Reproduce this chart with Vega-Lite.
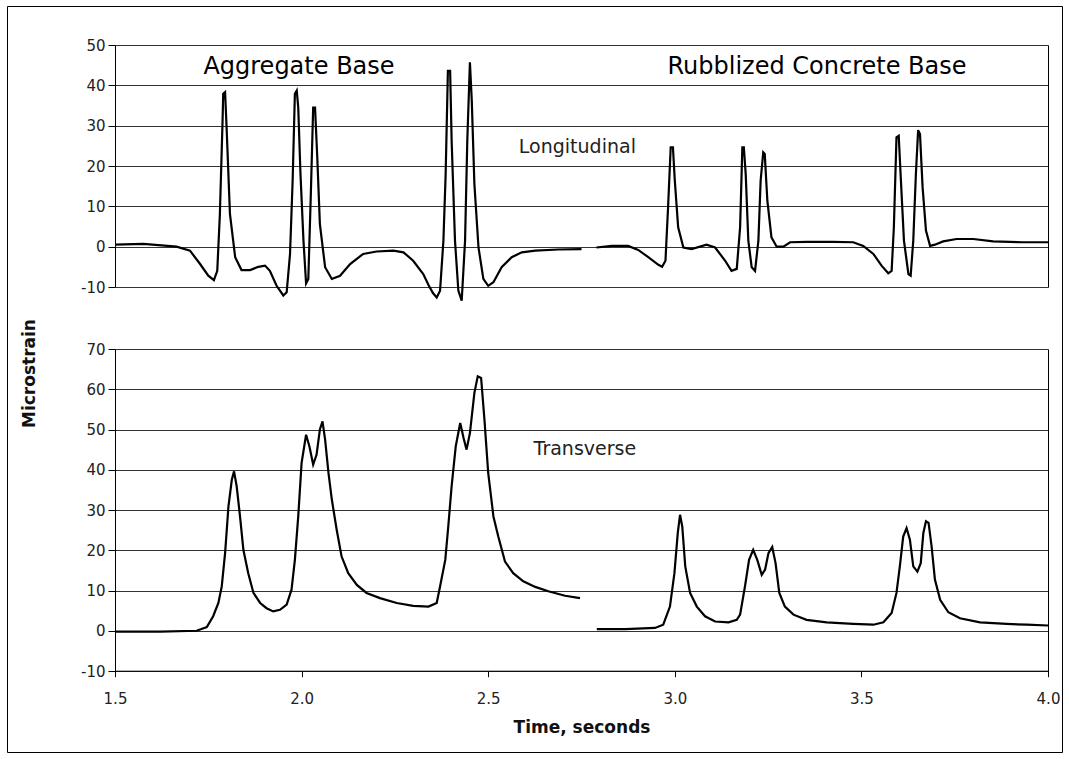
{
  "$schema": "https://vega.github.io/schema/vega-lite/v6.json",
  "autosize": "none",
  "padding": {"left": 7, "top": 6, "right": 7, "bottom": 7},
  "width": 1055,
  "height": 746,
  "background": "white",
  "config": {
    "font": "DejaVu Sans",
    "view": {"stroke": "#000", "strokeWidth": 1},
    "axis": {
      "labelFont": "DejaVu Sans",
      "labelFontSize": 15,
      "labelColor": "#222",
      "titleFont": "DejaVu Sans",
      "titleFontSize": 17,
      "titleFontWeight": "bold",
      "titleColor": "#111",
      "domainColor": "#000",
      "tickColor": "#000",
      "gridColor": "#333",
      "gridOpacity": 1
    }
  },
  "datasets": {
    "lon": [
      {"seg":"a","t":1.5,"v":0.5},{"seg":"a","t":1.576,"v":0.7},{"seg":"a","t":1.665,"v":0},{"seg":"a","t":1.701,"v":-1},{"seg":"a","t":1.728,"v":-4.3},{"seg":"a","t":1.75,"v":-7.2},{"seg":"a","t":1.765,"v":-8.3},{"seg":"a","t":1.774,"v":-6},{"seg":"a","t":1.781,"v":8},{"seg":"a","t":1.788,"v":30.4},{"seg":"a","t":1.79,"v":37.9},{"seg":"a","t":1.795,"v":38.3},{"seg":"a","t":1.799,"v":29.6},{"seg":"a","t":1.808,"v":8.1},{"seg":"a","t":1.822,"v":-2.6},{"seg":"a","t":1.839,"v":-5.8},{"seg":"a","t":1.862,"v":-5.8},{"seg":"a","t":1.884,"v":-5},{"seg":"a","t":1.902,"v":-4.7},{"seg":"a","t":1.915,"v":-6},{"seg":"a","t":1.933,"v":-9.7},{"seg":"a","t":1.951,"v":-12.1},{"seg":"a","t":1.96,"v":-11.3},{"seg":"a","t":1.969,"v":-1.8},{"seg":"a","t":1.976,"v":16.4},{"seg":"a","t":1.982,"v":37.9},{"seg":"a","t":1.987,"v":38.7},{"seg":"a","t":1.991,"v":34.5},{"seg":"a","t":1.997,"v":18},{"seg":"a","t":2.005,"v":1.5},{"seg":"a","t":2.012,"v":-9.1},{"seg":"a","t":2.018,"v":-8},{"seg":"a","t":2.025,"v":13.9},{"seg":"a","t":2.031,"v":34.5},{"seg":"a","t":2.036,"v":34.5},{"seg":"a","t":2.042,"v":22.1},{"seg":"a","t":2.049,"v":5.6},{"seg":"a","t":2.063,"v":-5.1},{"seg":"a","t":2.081,"v":-8},{"seg":"a","t":2.103,"v":-7.2},{"seg":"a","t":2.13,"v":-4.3},{"seg":"a","t":2.165,"v":-1.8},{"seg":"a","t":2.201,"v":-1.2},{"seg":"a","t":2.246,"v":-1},{"seg":"a","t":2.273,"v":-1.4},{"seg":"a","t":2.299,"v":-3.5},{"seg":"a","t":2.326,"v":-6.8},{"seg":"a","t":2.34,"v":-9.5},{"seg":"a","t":2.352,"v":-11.5},{"seg":"a","t":2.362,"v":-12.6},{"seg":"a","t":2.371,"v":-10.9},{"seg":"a","t":2.38,"v":1.5},{"seg":"a","t":2.386,"v":18},{"seg":"a","t":2.392,"v":43.6},{"seg":"a","t":2.398,"v":43.6},{"seg":"a","t":2.402,"v":26.3},{"seg":"a","t":2.411,"v":1.5},{"seg":"a","t":2.42,"v":-10.9},{"seg":"a","t":2.429,"v":-13.4},{"seg":"a","t":2.438,"v":1.5},{"seg":"a","t":2.444,"v":26.3},{"seg":"a","t":2.451,"v":45.7},{"seg":"a","t":2.456,"v":36.2},{"seg":"a","t":2.463,"v":15.5},{"seg":"a","t":2.474,"v":-0.2},{"seg":"a","t":2.487,"v":-8},{"seg":"a","t":2.5,"v":-9.7},{"seg":"a","t":2.514,"v":-8.8},{"seg":"a","t":2.536,"v":-5.1},{"seg":"a","t":2.563,"v":-2.6},{"seg":"a","t":2.59,"v":-1.4},{"seg":"a","t":2.626,"v":-1},{"seg":"a","t":2.688,"v":-0.7},{"seg":"a","t":2.75,"v":-0.6},
      {"seg":"b","t":2.79,"v":-0.2},{"seg":"b","t":2.831,"v":0.2},{"seg":"b","t":2.875,"v":0.2},{"seg":"b","t":2.902,"v":-0.8},{"seg":"b","t":2.929,"v":-2.6},{"seg":"b","t":2.956,"v":-4.5},{"seg":"b","t":2.966,"v":-5},{"seg":"b","t":2.975,"v":-3.5},{"seg":"b","t":2.982,"v":9.8},{"seg":"b","t":2.989,"v":24.6},{"seg":"b","t":2.995,"v":24.6},{"seg":"b","t":3.0,"v":16.4},{"seg":"b","t":3.009,"v":4.8},{"seg":"b","t":3.023,"v":-0.2},{"seg":"b","t":3.045,"v":-0.6},{"seg":"b","t":3.085,"v":0.5},{"seg":"b","t":3.108,"v":-0.2},{"seg":"b","t":3.135,"v":-3.5},{"seg":"b","t":3.152,"v":-6},{"seg":"b","t":3.166,"v":-5.5},{"seg":"b","t":3.175,"v":4.8},{"seg":"b","t":3.181,"v":24.6},{"seg":"b","t":3.185,"v":24.6},{"seg":"b","t":3.19,"v":18},{"seg":"b","t":3.197,"v":1.5},{"seg":"b","t":3.206,"v":-5.1},{"seg":"b","t":3.215,"v":-6},{"seg":"b","t":3.224,"v":1.5},{"seg":"b","t":3.23,"v":16.4},{"seg":"b","t":3.237,"v":23.4},{"seg":"b","t":3.241,"v":23},{"seg":"b","t":3.248,"v":11.4},{"seg":"b","t":3.259,"v":2.3},{"seg":"b","t":3.273,"v":0},{"seg":"b","t":3.291,"v":0},{"seg":"b","t":3.309,"v":1.1},{"seg":"b","t":3.353,"v":1.2},{"seg":"b","t":3.425,"v":1.2},{"seg":"b","t":3.478,"v":1.1},{"seg":"b","t":3.505,"v":0.2},{"seg":"b","t":3.532,"v":-1.8},{"seg":"b","t":3.554,"v":-4.7},{"seg":"b","t":3.572,"v":-6.6},{"seg":"b","t":3.581,"v":-6},{"seg":"b","t":3.587,"v":4.8},{"seg":"b","t":3.594,"v":27.1},{"seg":"b","t":3.6,"v":27.5},{"seg":"b","t":3.605,"v":18},{"seg":"b","t":3.614,"v":1.5},{"seg":"b","t":3.626,"v":-6.8},{"seg":"b","t":3.632,"v":-7.2},{"seg":"b","t":3.639,"v":1.5},{"seg":"b","t":3.646,"v":18},{"seg":"b","t":3.652,"v":28.9},{"seg":"b","t":3.657,"v":27.9},{"seg":"b","t":3.664,"v":14.7},{"seg":"b","t":3.673,"v":4},{"seg":"b","t":3.684,"v":0.2},{"seg":"b","t":3.697,"v":0.5},{"seg":"b","t":3.719,"v":1.3},{"seg":"b","t":3.755,"v":1.9},{"seg":"b","t":3.8,"v":1.9},{"seg":"b","t":3.853,"v":1.3},{"seg":"b","t":3.934,"v":1.1},{"seg":"b","t":4.0,"v":1.1}
    ],
    "tra": [
      {"seg":"a","t":1.5,"v":-0.2},{"seg":"a","t":1.621,"v":-0.2},{"seg":"a","t":1.719,"v":0},{"seg":"a","t":1.746,"v":0.9},{"seg":"a","t":1.763,"v":3.6},{"seg":"a","t":1.777,"v":6.9},{"seg":"a","t":1.786,"v":11},{"seg":"a","t":1.795,"v":19.3},{"seg":"a","t":1.804,"v":30.9},{"seg":"a","t":1.813,"v":37.5},{"seg":"a","t":1.819,"v":39.6},{"seg":"a","t":1.826,"v":35.9},{"seg":"a","t":1.835,"v":28.4},{"seg":"a","t":1.844,"v":20.1},{"seg":"a","t":1.857,"v":14.3},{"seg":"a","t":1.871,"v":9.4},{"seg":"a","t":1.889,"v":6.9},{"seg":"a","t":1.906,"v":5.6},{"seg":"a","t":1.924,"v":4.8},{"seg":"a","t":1.942,"v":5.2},{"seg":"a","t":1.96,"v":6.5},{"seg":"a","t":1.973,"v":10.2},{"seg":"a","t":1.982,"v":17.6},{"seg":"a","t":1.991,"v":28.4},{"seg":"a","t":2.0,"v":41.7},{"seg":"a","t":2.012,"v":48.7},{"seg":"a","t":2.021,"v":45.8},{"seg":"a","t":2.031,"v":41.3},{"seg":"a","t":2.04,"v":43.7},{"seg":"a","t":2.049,"v":50},{"seg":"a","t":2.056,"v":52},{"seg":"a","t":2.063,"v":47.5},{"seg":"a","t":2.072,"v":39.2},{"seg":"a","t":2.081,"v":32.6},{"seg":"a","t":2.094,"v":25.1},{"seg":"a","t":2.107,"v":18.5},{"seg":"a","t":2.125,"v":14.3},{"seg":"a","t":2.148,"v":11.4},{"seg":"a","t":2.174,"v":9.4},{"seg":"a","t":2.21,"v":8.1},{"seg":"a","t":2.255,"v":6.9},{"seg":"a","t":2.299,"v":6.2},{"seg":"a","t":2.34,"v":6},{"seg":"a","t":2.362,"v":6.9},{"seg":"a","t":2.371,"v":11},{"seg":"a","t":2.385,"v":17.6},{"seg":"a","t":2.393,"v":25.9},{"seg":"a","t":2.402,"v":35.9},{"seg":"a","t":2.413,"v":45.8},{"seg":"a","t":2.425,"v":51.6},{"seg":"a","t":2.434,"v":47.9},{"seg":"a","t":2.442,"v":45},{"seg":"a","t":2.451,"v":49.1},{"seg":"a","t":2.463,"v":59.1},{"seg":"a","t":2.472,"v":63.2},{"seg":"a","t":2.481,"v":62.8},{"seg":"a","t":2.49,"v":52.4},{"seg":"a","t":2.5,"v":39.2},{"seg":"a","t":2.514,"v":28.4},{"seg":"a","t":2.527,"v":23.4},{"seg":"a","t":2.545,"v":17.2},{"seg":"a","t":2.567,"v":14.3},{"seg":"a","t":2.594,"v":12.3},{"seg":"a","t":2.626,"v":10.9},{"seg":"a","t":2.661,"v":9.8},{"seg":"a","t":2.706,"v":8.7},{"seg":"a","t":2.746,"v":8.1},
      {"seg":"b","t":2.791,"v":0.4},{"seg":"b","t":2.867,"v":0.4},{"seg":"b","t":2.947,"v":0.7},{"seg":"b","t":2.969,"v":1.5},{"seg":"b","t":2.987,"v":6},{"seg":"b","t":2.999,"v":14.3},{"seg":"b","t":3.008,"v":24.3},{"seg":"b","t":3.014,"v":28.8},{"seg":"b","t":3.02,"v":25.9},{"seg":"b","t":3.028,"v":16},{"seg":"b","t":3.041,"v":9.4},{"seg":"b","t":3.059,"v":6},{"seg":"b","t":3.081,"v":3.6},{"seg":"b","t":3.108,"v":2.3},{"seg":"b","t":3.144,"v":2.1},{"seg":"b","t":3.166,"v":2.7},{"seg":"b","t":3.175,"v":4},{"seg":"b","t":3.188,"v":11},{"seg":"b","t":3.199,"v":17.6},{"seg":"b","t":3.21,"v":20.1},{"seg":"b","t":3.221,"v":17.6},{"seg":"b","t":3.233,"v":13.9},{"seg":"b","t":3.242,"v":15.2},{"seg":"b","t":3.251,"v":19.3},{"seg":"b","t":3.261,"v":20.8},{"seg":"b","t":3.27,"v":16.8},{"seg":"b","t":3.28,"v":9.4},{"seg":"b","t":3.295,"v":6},{"seg":"b","t":3.318,"v":4},{"seg":"b","t":3.353,"v":2.7},{"seg":"b","t":3.407,"v":2.1},{"seg":"b","t":3.478,"v":1.7},{"seg":"b","t":3.532,"v":1.5},{"seg":"b","t":3.559,"v":2.1},{"seg":"b","t":3.581,"v":4.4},{"seg":"b","t":3.594,"v":9.4},{"seg":"b","t":3.603,"v":16},{"seg":"b","t":3.612,"v":23.4},{"seg":"b","t":3.621,"v":25.5},{"seg":"b","t":3.63,"v":22.6},{"seg":"b","t":3.639,"v":16},{"seg":"b","t":3.65,"v":14.7},{"seg":"b","t":3.659,"v":16.8},{"seg":"b","t":3.666,"v":24.3},{"seg":"b","t":3.673,"v":27.2},{"seg":"b","t":3.68,"v":26.8},{"seg":"b","t":3.688,"v":21},{"seg":"b","t":3.697,"v":12.7},{"seg":"b","t":3.711,"v":7.7},{"seg":"b","t":3.733,"v":4.6},{"seg":"b","t":3.764,"v":3.1},{"seg":"b","t":3.818,"v":2.1},{"seg":"b","t":3.889,"v":1.7},{"seg":"b","t":3.943,"v":1.5},{"seg":"b","t":4.0,"v":1.3}
    ],
    "labTop": [
      {"t": 1.993, "v": 42.9, "txt": "Aggregate Base"},
      {"t": 3.381, "v": 42.9, "txt": "Rubblized Concrete Base"}
    ],
    "labLon": [{"t": 2.739, "v": 23.1, "txt": "Longitudinal"}],
    "labTra": [{"t": 2.759, "v": 43.7, "txt": "Transverse"}]
  },
  "encoding": {
    "x": {
      "field": "t",
      "type": "quantitative",
      "scale": {"domain": [1.5, 4.0], "range": [108, 1041], "nice": false, "zero": false},
      "axis": {
        "orient": "bottom",
        "offset": -81.3,
        "values": [1.5, 2.0, 2.5, 3.0, 3.5, 4.0],
        "format": ".1f",
        "grid": false,
        "labelFlush": false,
        "tickSize": 6,
        "labelPadding": 15,
        "title": "Time, seconds",
        "titleY": 57,
        "titleBaseline": "middle"
      }
    }
  },
  "layer": [
    {
      "data": {"name": "lon"},
      "mark": {"type": "line", "color": "#000", "strokeWidth": 2.2},
      "encoding": {
        "detail": {"field": "seg"},
        "y": {
          "field": "v",
          "type": "quantitative",
          "scale": {"domain": [-10, 50], "range": [281, 39], "nice": false, "zero": false},
          "axis": {
            "orient": "left",
            "offset": -108,
            "values": [-10, 0, 10, 20, 30, 40, 50],
            "labelExpr": "replace(datum.label, '\u2212', '-')",
            "grid": true,
            "tickSize": 7,
            "labelPadding": 3,
            "title": null
          }
        }
      }
    },
    {
      "layer": [
        {
          "data": {"name": "labTop"},
          "mark": {"type": "text", "align": "center", "baseline": "alphabetic", "fontSize": 24, "color": "#000"},
          "encoding": {
            "text": {"field": "txt"},
            "y": {
              "field": "v",
              "type": "quantitative",
              "scale": {"domain": [-10, 50], "range": [281, 39], "nice": false, "zero": false},
              "axis": {"orient": "right", "offset": -14, "labels": false, "ticks": false, "grid": false, "domain": true, "title": null}
            }
          }
        },
        {
          "data": {"name": "labLon"},
          "mark": {"type": "text", "align": "center", "baseline": "alphabetic", "fontSize": 19, "color": "#222"},
          "encoding": {
            "text": {"field": "txt"},
            "y": {
              "field": "v",
              "type": "quantitative",
              "scale": {"domain": [-10, 50], "range": [281, 39], "nice": false, "zero": false},
              "axis": {"orient": "right", "offset": -14, "labels": false, "ticks": false, "grid": false, "domain": true, "title": null}
            }
          }
        }
      ]
    },
    {
      "data": {"name": "tra"},
      "mark": {"type": "line", "color": "#000", "strokeWidth": 2.2},
      "encoding": {
        "detail": {"field": "seg"},
        "y": {
          "field": "v",
          "type": "quantitative",
          "scale": {"domain": [-10, 70], "range": [665, 343], "nice": false, "zero": false},
          "axis": {
            "orient": "left",
            "offset": -108,
            "values": [-10, 0, 10, 20, 30, 40, 50, 60, 70],
            "labelExpr": "replace(datum.label, '\u2212', '-')",
            "grid": true,
            "tickSize": 7,
            "labelPadding": 3,
            "title": "Microstrain",
            "titleX": -86,
            "titleY": 367,
            "titleAngle": 270,
            "titleAlign": "center",
            "titleBaseline": "middle"
          }
        }
      }
    },
    {
      "data": {"name": "labTra"},
      "mark": {"type": "text", "align": "center", "baseline": "alphabetic", "fontSize": 19, "color": "#222"},
      "encoding": {
        "text": {"field": "txt"},
        "y": {
          "field": "v",
          "type": "quantitative",
          "scale": {"domain": [-10, 70], "range": [665, 343], "nice": false, "zero": false},
          "axis": {"orient": "right", "offset": -14, "labels": false, "ticks": false, "grid": false, "domain": true, "title": null}
        }
      }
    }
  ],
  "resolve": {"scale": {"y": "independent"}, "axis": {"y": "independent"}}
}
